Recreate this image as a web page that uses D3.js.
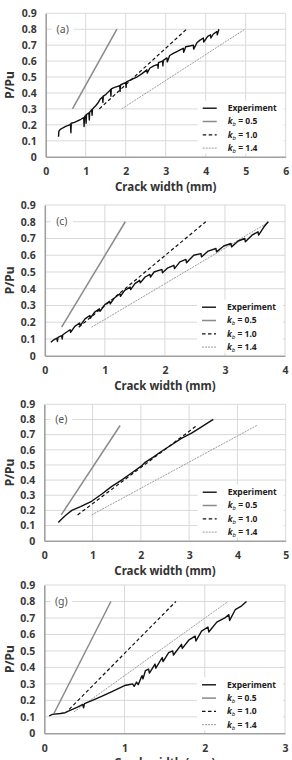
<!DOCTYPE html>
<html><head><meta charset="utf-8">
<script src="https://cdnjs.cloudflare.com/ajax/libs/d3/7.8.5/d3.min.js"></script>
<style>
html,body{margin:0;padding:0;background:#fff;}
svg{display:block;}
</style></head>
<body>
<script>
// ---------- DATA ----------
const panelLabels = ["(a)", "(c)", "(e)", "(g)"];
const xMaxes = [6, 4, 5, 3];
const yTicks = [0, 0.1, 0.2, 0.3, 0.4, 0.5, 0.6, 0.7, 0.8, 0.9];
const legendNames = ["Experiment", "0.5", "1.0", "1.4"];
const xTitle = "Crack width (mm)";
const yTitle = "P/Pu";

// Experiment curves [crack width, P/Pu] (including unloading spikes)
const expA = [[0.32,0.125],[0.33,0.16],[0.36,0.17],[0.42,0.18],[0.5,0.19],[0.6,0.2],[0.62,0.205],[0.63,0.15],[0.64,0.21],[0.72,0.215],[0.8,0.225],[0.88,0.235],[0.95,0.245],[0.96,0.19],[0.97,0.25],[1.0,0.26],[1.01,0.21],[1.02,0.265],[1.08,0.275],[1.09,0.23],[1.1,0.28],[1.15,0.295],[1.16,0.26],[1.17,0.3],[1.25,0.32],[1.3,0.335],[1.36,0.36],[1.42,0.375],[1.43,0.34],[1.44,0.38],[1.5,0.39],[1.58,0.41],[1.62,0.42],[1.63,0.38],[1.64,0.425],[1.72,0.435],[1.78,0.44],[1.85,0.445],[1.86,0.41],[1.87,0.45],[1.95,0.46],[2.0,0.465],[2.01,0.435],[2.02,0.47],[2.15,0.485],[2.28,0.5],[2.4,0.52],[2.53,0.545],[2.54,0.525],[2.6,0.555],[2.7,0.57],[2.8,0.58],[2.81,0.555],[2.82,0.59],[2.92,0.6],[2.93,0.57],[2.94,0.605],[3.03,0.62],[3.04,0.595],[3.1,0.635],[3.2,0.65],[3.28,0.66],[3.36,0.67],[3.44,0.68],[3.45,0.655],[3.5,0.69],[3.6,0.695],[3.69,0.7],[3.7,0.675],[3.78,0.715],[3.85,0.73],[3.94,0.745],[3.95,0.72],[4.05,0.755],[4.12,0.765],[4.13,0.745],[4.19,0.77],[4.28,0.785],[4.29,0.765],[4.33,0.8]];
const expC = [[0.1,0.08],[0.15,0.095],[0.2,0.105],[0.21,0.085],[0.22,0.11],[0.28,0.12],[0.29,0.1],[0.3,0.125],[0.36,0.14],[0.42,0.155],[0.43,0.14],[0.5,0.175],[0.58,0.195],[0.59,0.18],[0.67,0.22],[0.75,0.24],[0.76,0.225],[0.83,0.26],[0.91,0.28],[0.92,0.265],[1.0,0.305],[1.08,0.325],[1.09,0.31],[1.16,0.345],[1.25,0.37],[1.26,0.355],[1.33,0.39],[1.42,0.41],[1.43,0.395],[1.5,0.43],[1.58,0.45],[1.59,0.435],[1.67,0.47],[1.75,0.485],[1.76,0.47],[1.82,0.5],[1.9,0.51],[1.95,0.515],[1.96,0.495],[2.05,0.525],[2.15,0.54],[2.16,0.52],[2.25,0.56],[2.35,0.575],[2.36,0.555],[2.48,0.6],[2.6,0.61],[2.61,0.59],[2.72,0.625],[2.85,0.64],[2.86,0.62],[2.98,0.655],[3.1,0.67],[3.11,0.65],[3.22,0.685],[3.33,0.7],[3.34,0.68],[3.45,0.72],[3.55,0.74],[3.56,0.72],[3.65,0.77],[3.72,0.8]];
const expE = [[0.29,0.12],[0.35,0.14],[0.45,0.17],[0.57,0.2],[0.75,0.225],[0.98,0.26],[1.2,0.31],[1.39,0.357],[1.6,0.4],[1.8,0.445],[2.0,0.49],[2.08,0.515],[2.25,0.55],[2.43,0.59],[2.6,0.625],[2.84,0.675],[3.05,0.71],[3.2,0.74],[3.5,0.8]];
const expG = [[0.06,0.105],[0.1,0.115],[0.2,0.12],[0.26,0.125],[0.3,0.135],[0.35,0.145],[0.42,0.16],[0.48,0.175],[0.49,0.155],[0.5,0.18],[0.6,0.2],[0.72,0.225],[0.85,0.255],[1.0,0.29],[1.05,0.295],[1.1,0.3],[1.12,0.285],[1.15,0.31],[1.17,0.295],[1.2,0.33],[1.22,0.35],[1.23,0.33],[1.26,0.38],[1.3,0.39],[1.31,0.365],[1.38,0.42],[1.39,0.395],[1.47,0.46],[1.48,0.435],[1.55,0.49],[1.6,0.5],[1.61,0.475],[1.71,0.54],[1.72,0.515],[1.8,0.565],[1.88,0.59],[1.89,0.56],[1.96,0.62],[2.04,0.645],[2.05,0.615],[2.15,0.675],[2.25,0.7],[2.3,0.72],[2.31,0.685],[2.38,0.75],[2.45,0.77],[2.52,0.8]];

// Predicted lines for k_b = 0.5, 1.0, 1.4
const kb05A = [[0.67,0.3],[1.78,0.8]];
const kb10A = [[1.34,0.3],[3.52,0.8]];
const kb14A = [[1.9,0.3],[4.98,0.8]];
const kb05C = [[0.28,0.17],[1.34,0.8]];
const kb10C = [[0.565,0.17],[2.68,0.8]];
const kb14C = [[0.78,0.17],[3.74,0.8]];
const kb05E = [[0.35,0.17],[1.57,0.76]];
const kb10E = [[0.69,0.17],[3.16,0.76]];
const kb14E = [[0.98,0.17],[4.4,0.76]];
const kb05G = [[0.12,0.12],[0.83,0.8]];
const kb10G = [[0.31,0.145],[1.64,0.8]];
const kb14G = [[0.37,0.13],[2.29,0.8]];

const expSeries = [expA, expC, expE, expG];
const kb05Series = [kb05A, kb05C, kb05E, kb05G];
const kb10Series = [kb10A, kb10C, kb10E, kb10G];
const kb14Series = [kb14A, kb14C, kb14E, kb14G];

// ---------- LAYOUT ----------
const W = 292, H = 760;
const boxes = [
  {l:45.7, r:285.7, t:13.3,  b:156.7},
  {l:44.8, r:285,   t:205,   b:355.7},
  {l:44.3, r:285.7, t:404.3, b:540.7},
  {l:44.3, r:285,   t:585,   b:733.3}
];
const styles = [
  {stroke:"#111", width:1.4, dash:null},
  {stroke:"#8a8a8a", width:1.5, dash:null},
  {stroke:"#111", width:1.2, dash:"3.5,2.5"},
  {stroke:"#9c9c9c", width:1, dash:"2,1"}
];
const FONT = "'Noto Sans', 'DejaVu Sans', sans-serif";

const svg = d3.select("body").append("svg")
  .attr("width", W).attr("height", H)
  .style("font-family", FONT);
svg.append("rect").attr("width", W).attr("height", H).attr("fill", "#fff");

panelLabels.forEach((lab, i) => {
  const bx = boxes[i];
  const x = d3.scaleLinear().domain([0, xMaxes[i]]).range([bx.l, bx.r]);
  const y = d3.scaleLinear().domain([0, 0.9]).range([bx.b, bx.t]);
  const g = svg.append("g");

  // grid
  const xt = d3.range(0, xMaxes[i] + 1);
  g.append("g").selectAll("line").data(yTicks.slice(1)).join("line")
    .attr("x1", bx.l).attr("x2", bx.r)
    .attr("y1", d => y(d)).attr("y2", d => y(d))
    .attr("stroke", "#d9d9d9").attr("stroke-width", 1);
  g.append("g").selectAll("line").data(xt.slice(1)).join("line")
    .attr("x1", d => x(d)).attr("x2", d => x(d))
    .attr("y1", bx.t).attr("y2", bx.b)
    .attr("stroke", "#d9d9d9").attr("stroke-width", 1);

  // axes
  const xAxis = g.append("g").attr("transform", `translate(0,${bx.b})`)
    .call(d3.axisBottom(x).tickValues(xt).tickSize(0).tickPadding(11).tickFormat(d3.format("d")));
  const yAxis = g.append("g").attr("transform", `translate(${bx.l},0)`)
    .call(d3.axisLeft(y).tickValues(yTicks).tickSize(0).tickPadding(9)
      .tickFormat(d => d === 0 ? "0" : d3.format(".1f")(d)));
  [xAxis, yAxis].forEach(a => {
    a.select(".domain").attr("stroke", "#a0a0a0").attr("stroke-width", 1.6);
    a.selectAll("text").attr("font-family", FONT).attr("font-size", 10.5)
      .attr("font-weight", "bold").attr("fill", "#383838");
  });

  // panel label
  const lbx = x(0) + 17;
  g.append("rect").attr("x", lbx - 11).attr("y", y(0.8) - 6).attr("width", 22).attr("height", 12).attr("fill", "#fff");
  g.append("text").attr("x", lbx).attr("y", y(0.8)).attr("dy", "0.35em")
    .attr("text-anchor", "middle").attr("font-size", 10.5).attr("fill", "#555").text(lab);

  // legend background
  const lgTop = bx.b - 56;
  g.append("rect").attr("x", bx.r - 88).attr("y", lgTop).attr("width", 86).attr("height", 53).attr("fill", "#fff");

  // series
  const line = d3.line().x(d => x(d[0])).y(d => y(d[1]));
  const series = [expSeries[i], kb05Series[i], kb10Series[i], kb14Series[i]];
  [3, 1, 2, 0].forEach(k => {
    const st = styles[k];
    g.append("path").datum(series[k]).attr("d", line)
      .attr("fill", "none").attr("stroke", st.stroke).attr("stroke-width", st.width)
      .attr("stroke-dasharray", st.dash).attr("stroke-linejoin", "round");
  });

  // legend
  const lx = bx.r - 83;
  legendNames.forEach((nm, k) => {
    const ly = bx.b - 48.5 + k * 13.3;
    const st = styles[k];
    g.append("line").attr("x1", lx).attr("x2", lx + 14).attr("y1", ly).attr("y2", ly)
      .attr("stroke", st.stroke).attr("stroke-width", st.width).attr("stroke-dasharray", st.dash);
    const t = g.append("text").attr("x", lx + 25).attr("y", ly).attr("dy", "0.35em")
      .attr("font-size", 8.5).attr("font-weight", "bold").attr("fill", "#222");
    if (k === 0) {
      t.text(nm);
    } else {
      t.append("tspan").attr("font-style", "italic").text("k");
      t.append("tspan").attr("font-style", "italic").attr("font-weight", "normal")
        .attr("font-size", 6).attr("dy", 2).text("b");
      t.append("tspan").attr("dy", -2).text(" = " + nm);
    }
  });

  // axis titles
  g.append("text").attr("x", (bx.l + bx.r) / 2).attr("y", bx.b + 30).attr("dy", "0.35em")
    .attr("text-anchor", "middle").attr("font-size", 11.5).attr("font-weight", "bold").attr("fill", "#333")
    .text(xTitle);
  g.append("text").attr("transform", `translate(10,${(bx.t + bx.b) / 2}) rotate(-90)`)
    .attr("dy", "0.35em").attr("text-anchor", "middle").attr("font-size", 12)
    .attr("font-weight", "bold").attr("fill", "#333").text(yTitle);
});
</script>
</body></html>
